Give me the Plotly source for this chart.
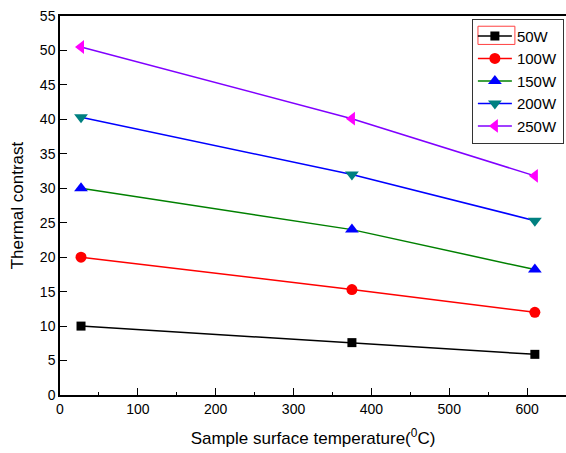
import plotly.graph_objects as go

temps = [27, 375, 610]
series_names = ["50W", "100W", "150W", "200W", "250W"]
v50 = [10.0, 7.6, 5.9]
v100 = [20.0, 15.3, 12.0]
v150 = [30.0, 24.0, 18.2]
v200 = [40.3, 32.0, 25.3]
v250 = [50.5, 40.1, 31.8]
values = [v50, v100, v150, v200, v250]

line_colors = ["#000000", "#ff0000", "#008000", "#0000ff", "#8000ff"]
marker_colors = ["#000000", "#ff0000", "#0000ff", "#008080", "#ff00ff"]
symbols = ["square", "circle", "triangle-up", "triangle-down", "triangle-left"]
sizes = [9, 11, 12, 12, 12]

fig = go.Figure()
for name, vals, lc, mc, sym, sz in zip(series_names, values, line_colors, marker_colors, symbols, sizes):
    fig.add_trace(go.Scatter(
        x=temps, y=vals, name=name, mode="lines+markers",
        line=dict(color=lc, width=1.5),
        marker=dict(symbol=sym, color=mc, size=sz, line=dict(width=0)),
    ))

# selection highlight around the first legend symbol (as in the reference)
fig.add_shape(type="rect", xref="paper", yref="paper",
              x0=0.826, x1=0.899, y0=0.925, y1=0.973,
              line=dict(color="#ff4040", width=1), layer="above")

font = "Liberation Sans, Arial, sans-serif"
fig.update_layout(
    width=566, height=453,
    margin=dict(l=60, r=0, t=16, b=58),
    paper_bgcolor="white", plot_bgcolor="white",
    font=dict(family=font, color="#000000"),
    showlegend=True,
    legend=dict(
        x=0.814, y=0.993, xanchor="left", yanchor="top",
        bgcolor="rgba(255,255,255,0)", bordercolor="#333333", borderwidth=1,
        font=dict(size=15, family=font), tracegroupgap=0,
        itemwidth=34,
    ),
    xaxis=dict(
        range=[0, 650], dtick=100, tick0=0, automargin=False,
        showgrid=False, zeroline=False,
        showline=True, linecolor="#000000", linewidth=1.5, mirror=True,
        ticks="inside", ticklen=7, tickwidth=1.2, tickcolor="#000000",
        minor=dict(dtick=50, ticks="inside", ticklen=3, tickcolor="#000000", tickwidth=1),
        tickfont=dict(size=14, family=font),
        title=dict(text="Sample surface temperature(<sup>0</sup>C)", font=dict(size=17, family=font), standoff=17),
    ),
    yaxis=dict(
        range=[0, 55], dtick=5, tick0=0, automargin=False,
        showgrid=False, zeroline=False,
        showline=True, linecolor="#000000", linewidth=1.5, mirror=False,
        ticks="inside", ticklen=7, tickwidth=1.2, tickcolor="#000000",
        tickfont=dict(size=14, family=font),
        title=dict(text="Thermal contrast", font=dict(size=17, family=font), standoff=12),
    ),
)

fig.write_html("out.html", config={"displayModeBar": False},
               post_script="document.body.style.margin='0';document.body.style.overflow='hidden';")
